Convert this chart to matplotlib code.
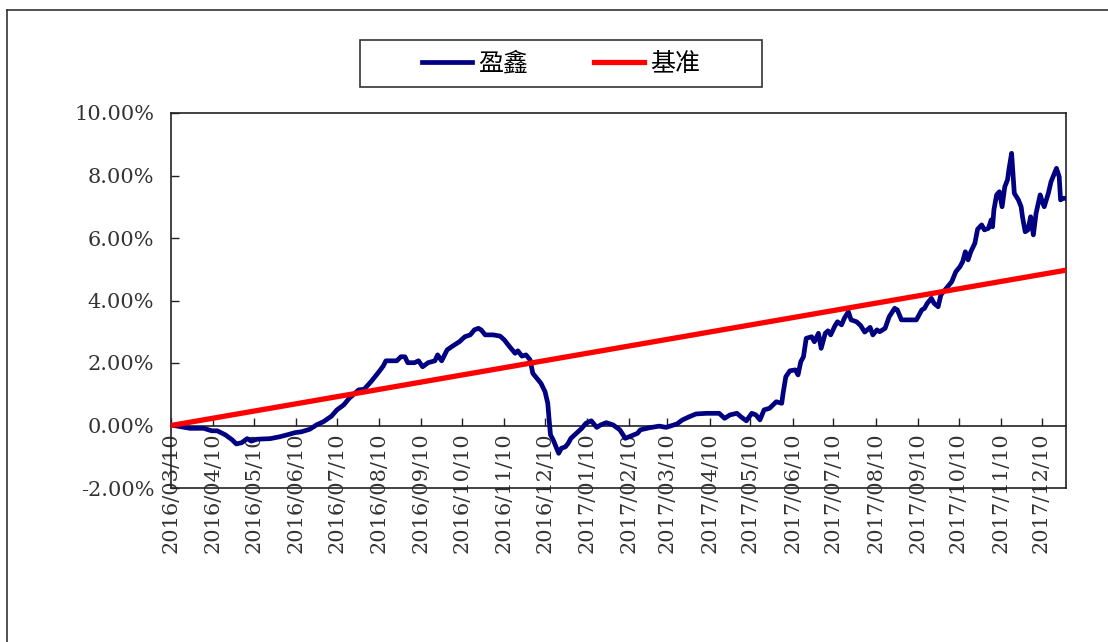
import matplotlib
matplotlib.use('Agg')
import matplotlib.pyplot as plt
import matplotlib.dates as mdates
import pandas as pd
from matplotlib.lines import Line2D
from matplotlib.patches import Rectangle

plt.rcParams['font.family'] = ['DejaVu Serif']

# 盈鑫 series, values in %
yingxin_dates = [
    '2016-03-10', '2016-03-12', '2016-03-24', '2016-04-03', '2016-04-09', '2016-04-13',
    '2016-04-19', '2016-04-24', '2016-04-27', '2016-05-01', '2016-05-05', '2016-05-08',
    '2016-05-12', '2016-05-22', '2016-05-29', '2016-06-05', '2016-06-09', '2016-06-14',
    '2016-06-20', '2016-06-25', '2016-06-30', '2016-07-06', '2016-07-10', '2016-07-15',
    '2016-07-19', '2016-07-26', '2016-07-30', '2016-08-04', '2016-08-09', '2016-08-13',
    '2016-08-15', '2016-08-23', '2016-08-26', '2016-08-29', '2016-08-31', '2016-09-05',
    '2016-09-08', '2016-09-11', '2016-09-15', '2016-09-20', '2016-09-22', '2016-09-25',
    '2016-09-29', '2016-10-03', '2016-10-08', '2016-10-12', '2016-10-16', '2016-10-19',
    '2016-10-22', '2016-10-24', '2016-10-27', '2016-11-02', '2016-11-07', '2016-11-10',
    '2016-11-14', '2016-11-18', '2016-11-20', '2016-11-23', '2016-11-26', '2016-11-29',
    '2016-12-01', '2016-12-04', '2016-12-07', '2016-12-10', '2016-12-12', '2016-12-13',
    '2016-12-14', '2016-12-16', '2016-12-20', '2016-12-22', '2016-12-25', '2016-12-27',
    '2016-12-29', '2017-01-02', '2017-01-06', '2017-01-09', '2017-01-13', '2017-01-17',
    '2017-01-20', '2017-01-24', '2017-01-29', '2017-02-03', '2017-02-07', '2017-02-11',
    '2017-02-16', '2017-02-18', '2017-02-25', '2017-03-04', '2017-03-09', '2017-03-17',
    '2017-03-21', '2017-03-26', '2017-03-31', '2017-04-08', '2017-04-17', '2017-04-21',
    '2017-04-25', '2017-04-30', '2017-05-03', '2017-05-07', '2017-05-11', '2017-05-14',
    '2017-05-17', '2017-05-20', '2017-05-24', '2017-05-29', '2017-06-02', '2017-06-03',
    '2017-06-05', '2017-06-08', '2017-06-12', '2017-06-14', '2017-06-16', '2017-06-18',
    '2017-06-20', '2017-06-24', '2017-06-26', '2017-06-29', '2017-07-01', '2017-07-04',
    '2017-07-06', '2017-07-08', '2017-07-11', '2017-07-13', '2017-07-16', '2017-07-18',
    '2017-07-21', '2017-07-23', '2017-07-27', '2017-07-30', '2017-08-02', '2017-08-06',
    '2017-08-08', '2017-08-11', '2017-08-13', '2017-08-17', '2017-08-20', '2017-08-24',
    '2017-08-26', '2017-08-29', '2017-09-04', '2017-09-09', '2017-09-13', '2017-09-15',
    '2017-09-17', '2017-09-20', '2017-09-22', '2017-09-25', '2017-09-27', '2017-10-01',
    '2017-10-05', '2017-10-08', '2017-10-11', '2017-10-13', '2017-10-15', '2017-10-17',
    '2017-10-19', '2017-10-22', '2017-10-24', '2017-10-27', '2017-10-29', '2017-11-01',
    '2017-11-03', '2017-11-04', '2017-11-05', '2017-11-07', '2017-11-09', '2017-11-11',
    '2017-11-13', '2017-11-15', '2017-11-16', '2017-11-18', '2017-11-19', '2017-11-20',
    '2017-11-23', '2017-11-25', '2017-11-26', '2017-11-28', '2017-11-30', '2017-12-02',
    '2017-12-04', '2017-12-06', '2017-12-09', '2017-12-11', '2017-12-12', '2017-12-15',
    '2017-12-17', '2017-12-20', '2017-12-21', '2017-12-23', '2017-12-24', '2017-12-26',
    '2017-12-28',
]
yingxin_values = [
    0.00, 0.00, -0.09, -0.09, -0.17, -0.17,
    -0.30, -0.46, -0.59, -0.55, -0.42, -0.50,
    -0.44, -0.42, -0.36, -0.28, -0.23, -0.20,
    -0.12, 0.02, 0.12, 0.30, 0.50, 0.66,
    0.87, 1.14, 1.16, 1.40, 1.67, 1.90,
    2.07, 2.07, 2.20, 2.20, 2.01, 2.01,
    2.07, 1.88, 2.01, 2.07, 2.26, 2.07,
    2.42, 2.54, 2.68, 2.84, 2.90, 3.06,
    3.11, 3.06, 2.90, 2.90, 2.86, 2.74,
    2.52, 2.31, 2.39, 2.22, 2.26, 2.10,
    1.67, 1.51, 1.35, 1.08, 0.71, 0.18,
    -0.30, -0.46, -0.89, -0.73, -0.68, -0.57,
    -0.41, -0.25, -0.09, 0.07, 0.15, -0.06,
    0.02, 0.09, 0.02, -0.14, -0.41, -0.34,
    -0.25, -0.14, -0.07, -0.02, -0.06, 0.05,
    0.18, 0.28, 0.37, 0.39, 0.39, 0.23,
    0.34, 0.39, 0.28, 0.15, 0.39, 0.34,
    0.18, 0.50, 0.55, 0.76, 0.71, 1.03,
    1.56, 1.75, 1.78, 1.62, 2.04, 2.20,
    2.79, 2.84, 2.68, 2.95, 2.47, 2.95,
    3.03, 2.90, 3.18, 3.32, 3.22, 3.43,
    3.64, 3.38, 3.32, 3.20, 2.99, 3.14,
    2.90, 3.06, 3.00, 3.11, 3.48, 3.75,
    3.70, 3.38, 3.38, 3.38, 3.70, 3.75,
    3.91, 4.07, 3.91, 3.80, 4.18, 4.39,
    4.60, 4.92, 5.08, 5.24, 5.56, 5.30,
    5.56, 5.83, 6.28, 6.42, 6.26, 6.31,
    6.58, 6.36, 6.90, 7.38, 7.48, 7.00,
    7.64, 7.86, 8.18, 8.71, 8.07, 7.43,
    7.22, 7.00, 6.68, 6.20, 6.26, 6.68,
    6.10, 6.79, 7.38, 7.11, 7.00, 7.43,
    7.80, 8.12, 8.23, 7.96, 7.22, 7.27,
    7.27,
]

# 基准 series (straight line), values in %
bench_dates = ['2016-03-10', '2017-12-28']
bench_values = [0.0, 4.97]

x_start, x_end = '2016-03-10', '2017-12-28'
y_ticks = [-2, 0, 2, 4, 6, 8, 10]
series_names = ['盈鑫', '基准']

W, H = 1108, 642
fig = plt.figure(figsize=(W / 100, H / 100), dpi=100)
ax = fig.add_axes([171 / W, 1 - 488 / H, (1066 - 171) / W, (488 - 113) / H])

ax.plot(pd.to_datetime(yingxin_dates), yingxin_values, color='#000080', lw=3.4,
        solid_joinstyle='round', zorder=3, label=series_names[0])
ax.plot(pd.to_datetime(bench_dates), bench_values, color='#FF0000', lw=3.8,
        zorder=4, label=series_names[1])

ax.set_xlim(pd.Timestamp(x_start), pd.Timestamp(x_end))
ax.set_ylim(y_ticks[0], y_ticks[-1])
ax.set_yticks(y_ticks)
ax.yaxis.set_major_formatter(plt.FuncFormatter(lambda v, p: f'{v:.2f}%'))

ax.xaxis.set_major_locator(mdates.MonthLocator(bymonthday=10))
ax.xaxis.set_major_formatter(mdates.DateFormatter('%Y/%m/%d'))

# x axis sits on the zero line, box closed at the bottom by a plain line
ax.spines['bottom'].set_position(('data', 0))
for s in ax.spines.values():
    s.set_linewidth(1.2)
    s.set_color('#222222')
ax.axhline(y_ticks[0], color='#222222', lw=1.2, clip_on=False, zorder=2.5)

ax.tick_params(axis='x', direction='in', length=6, width=1, color='#222222',
               labelsize=15, labelcolor='#333333', rotation=90, pad=5)
ax.tick_params(axis='y', direction='in', length=6, width=1, color='#222222',
               labelsize=15, labelcolor='#333333', pad=12)
for lab in ax.get_xticklabels():
    lab.set_verticalalignment('top')
    lab.set_horizontalalignment('center')

# legend
handles, labels = ax.get_legend_handles_labels()
fig.legend(handles, labels, loc='center', bbox_to_anchor=(561 / W, 1 - 64 / H),
           ncol=2, frameon=False, handlelength=2.0, handletextpad=0.25,
           columnspacing=2.6, prop={'family': ['Noto Sans CJK SC', 'DejaVu Sans'], 'size': 18})
fig.add_artist(Rectangle((360 / W, 1 - 87 / H), 402 / W, 47 / H, transform=fig.transFigure,
                         fill=False, edgecolor='#333333', lw=1.2))

# outer chart border (left and top edges visible)
fig.add_artist(Line2D([7 / W, 7 / W], [0, 1 - 10 / H], transform=fig.transFigure,
                      color='#333333', lw=1.2))
fig.add_artist(Line2D([7 / W, 1], [1 - 10 / H, 1 - 10 / H], transform=fig.transFigure,
                      color='#333333', lw=1.2))

fig.savefig('out.png', dpi=100)
